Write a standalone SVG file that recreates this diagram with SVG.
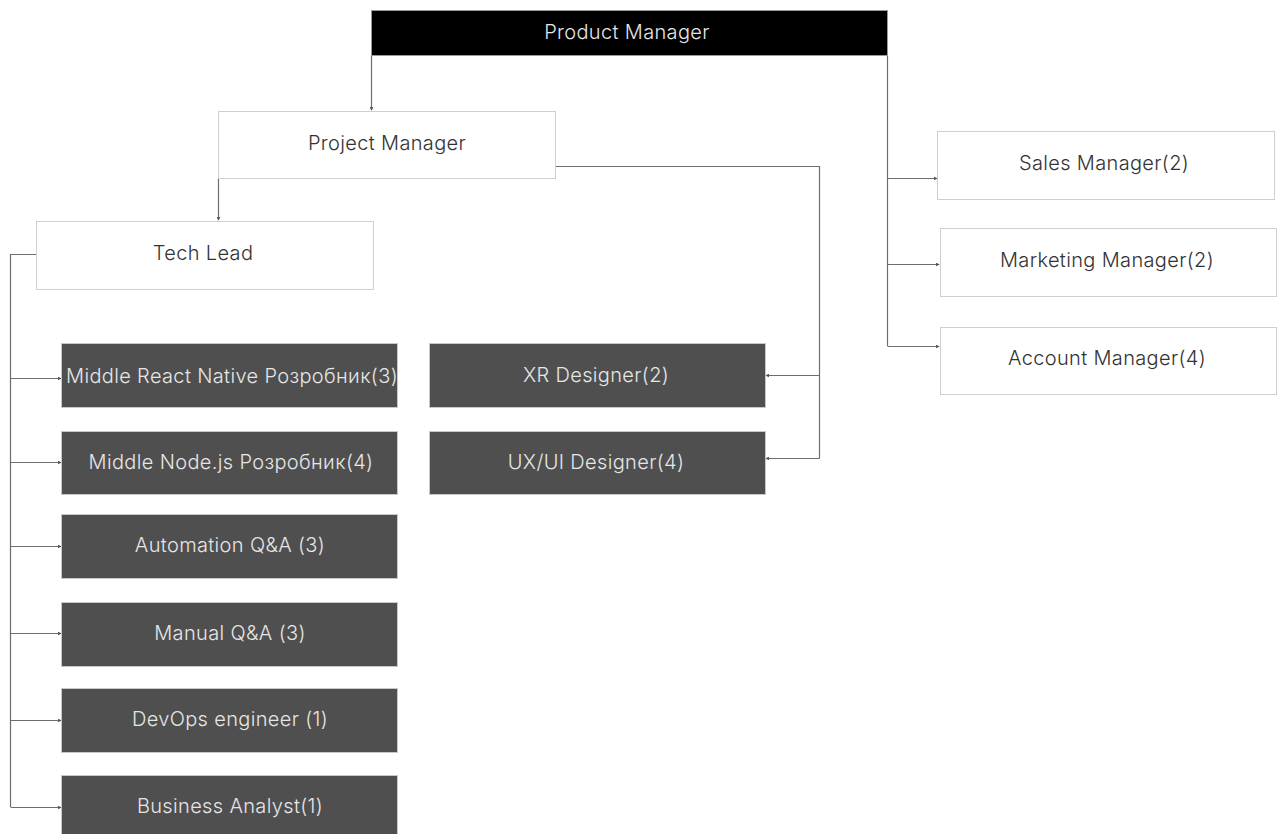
<svg xmlns="http://www.w3.org/2000/svg" width="1281" height="834" viewBox="0 0 1281 834">
  <style>
    .light rect { fill: #ffffff; stroke: #cfcfcf; stroke-width: 1; }
    .dark rect { fill: #4f4f4f; stroke: #c8c8c8; stroke-width: 1; }
    .top rect { fill: #000000; stroke: #9a9a9a; stroke-width: 1; }
    text { font-family: "Inter", "Noto Sans", sans-serif; font-weight: 300; font-size: 20px; letter-spacing: 0.35px; text-anchor: middle; dominant-baseline: central; }
    .light text { fill: #333333; }
    .dark text, .top text { fill: #e6e6e6; }
    .wire { fill: none; stroke: #6e6e6e; stroke-width: 1.2; }
    .wire.arrow { marker-end: url(#tip); }
  </style>
  <defs>
    <marker id="tip" viewBox="0 0 6 6" refX="5" refY="3" markerWidth="4" markerHeight="4" orient="auto" markerUnits="userSpaceOnUse">
      <path d="M0,0 L6,3 L0,6 z" fill="#555555"/>
    </marker>
  </defs>

  <rect width="1281" height="834" fill="#ffffff"/>

  <g id="connectors">
    <!-- Product Manager down to Project Manager -->
    <path class="wire arrow" d="M371.5,55 V110"/>
    <!-- Product Manager right branch to the sales side -->
    <path class="wire" d="M887.5,55 V346"/>
    <path class="wire arrow" d="M887.5,178.5 H937"/>
    <path class="wire arrow" d="M887.5,264.5 H939"/>
    <path class="wire arrow" d="M887.5,346.5 H939"/>
    <!-- Project Manager down to Tech Lead -->
    <path class="wire arrow" d="M218.5,178 V220"/>
    <!-- Project Manager right to the designers -->
    <path class="wire" d="M555,166.5 H819.5 V458.5"/>
    <path class="wire arrow" d="M819.5,375.5 H766"/>
    <path class="wire arrow" d="M819.5,458.5 H766"/>
    <!-- Tech Lead bus to the engineering team -->
    <path class="wire" d="M36,254.5 H10.5 V807"/>
    <path class="wire arrow" d="M10.5,378.5 H61"/>
    <path class="wire arrow" d="M10.5,462.5 H61"/>
    <path class="wire arrow" d="M10.5,546.5 H61"/>
    <path class="wire arrow" d="M10.5,633.5 H61"/>
    <path class="wire arrow" d="M10.5,720.5 H61"/>
    <path class="wire arrow" d="M10.5,807.5 H61"/>
  </g>

  <g id="product-manager" class="top">
    <rect x="371.5" y="10.5" width="516" height="45"/>
    <text x="627" y="32">Product Manager</text>
  </g>

  <g id="project-manager" class="light">
    <rect x="218.5" y="111.5" width="337" height="67"/>
    <text x="387" y="143">Project Manager</text>
  </g>

  <g id="tech-lead" class="light">
    <rect x="36.5" y="221.5" width="337" height="68"/>
    <text x="203" y="253">Tech Lead</text>
  </g>

  <g id="sales-manager" class="light">
    <rect x="937.5" y="131.5" width="337" height="68"/>
    <text x="1104" y="163">Sales Manager(2)</text>
  </g>

  <g id="marketing-manager" class="light">
    <rect x="940.5" y="228.5" width="336" height="68"/>
    <text x="1107" y="260">Marketing Manager(2)</text>
  </g>

  <g id="account-manager" class="light">
    <rect x="940.5" y="327.5" width="336" height="67"/>
    <text x="1107" y="358">Account Manager(4)</text>
  </g>

  <g id="react-native-dev" class="dark">
    <rect x="61.5" y="343.5" width="336" height="64"/>
    <text x="232" y="376">Middle React Native Розробник(3)</text>
  </g>

  <g id="nodejs-dev" class="dark">
    <rect x="61.5" y="431.5" width="336" height="63"/>
    <text x="231" y="462">Middle Node.js Розробник(4)</text>
  </g>

  <g id="automation-qa" class="dark">
    <rect x="61.5" y="514.5" width="336" height="64"/>
    <text x="230" y="545">Automation Q&amp;A (3)</text>
  </g>

  <g id="manual-qa" class="dark">
    <rect x="61.5" y="602.5" width="336" height="64"/>
    <text x="230" y="633">Manual Q&amp;A (3)</text>
  </g>

  <g id="devops" class="dark">
    <rect x="61.5" y="688.5" width="336" height="64"/>
    <text x="230" y="719">DevOps engineer (1)</text>
  </g>

  <g id="business-analyst" class="dark">
    <rect x="61.5" y="775.5" width="336" height="64"/>
    <text x="230" y="806">Business Analyst(1)</text>
  </g>

  <g id="xr-designer" class="dark">
    <rect x="429.5" y="343.5" width="336" height="64"/>
    <text x="596" y="375">XR Designer(2)</text>
  </g>

  <g id="uxui-designer" class="dark">
    <rect x="429.5" y="431.5" width="336" height="63"/>
    <text x="596" y="462">UX/UI Designer(4)</text>
  </g>
</svg>
